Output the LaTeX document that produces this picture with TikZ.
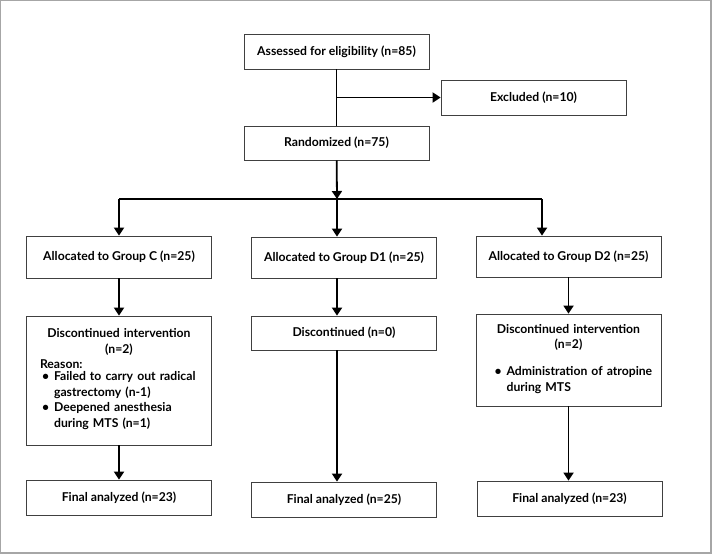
\documentclass[tikz,border=0pt]{standalone}
\usepackage{fontspec}
\setmainfont{Lato}
\usetikzlibrary{arrows.meta}

\begin{document}
\begin{tikzpicture}[x=1pt, y=-1pt, font=\bfseries\fontsize{12.2}{15.5}\selectfont]
\tikzstyle{box}=[draw=black!75, line width=0.8pt, minimum width=185pt, minimum height=35pt, inner sep=0pt, align=center];
\tikzstyle{link}=[line width=1.8pt];
\tikzstyle{arrow}=[line width=1.8pt, -{Triangle[length=8pt,width=10pt]}];
\useasboundingbox (0,0) rectangle (714,554);
\draw [gray!70, line width=1.2pt] (0.6,0.6) rectangle (711,553);
% top
\node [box] (assess) at (336.5,51.5) {Assessed for eligibility (n=85)};
\node [box] (excl) at (533.5,97.5) {Excluded (n=10)};
\node [box, minimum height=34pt] (rand) at (336.5,143) {Randomized (n=75)};
% groups
\node [box, minimum height=42pt] (allocC) at (119,257) {Allocated to Group C (n=25)};
\node [box, minimum height=41pt] (allocD1) at (344,257.5) {Allocated to Group D1 (n=25)};
\node [box, minimum height=41pt] (allocD2) at (568.5,256.5) {Allocated to Group D2 (n=25)};
\node [box, minimum height=129pt, text width=158pt] (discC) at (119,380.5)
  {\centering Discontinued intervention\\(n=2)\par
   \raggedright Reason:\par
   \begin{tabular}{@{\hspace{2pt}}l@{\hspace{5pt}}l@{}}
   \textbullet & Failed to carry out radical\\
               & gastrectomy (n-1)\\
   \textbullet & Deepened anesthesia\\
               & during MTS (n=1)
   \end{tabular}\par};
\node [box, minimum height=34pt] (discD1) at (344,333) {Discontinued (n=0)};
\node [box, minimum height=92pt, text width=158pt] (discD2) at (568.5,360)
  {\centering Discontinued intervention\\(n=2)\par
   \vspace{13pt}\raggedright
   \begin{tabular}{@{\hspace{5pt}}l@{\hspace{5pt}}l@{}}
   \textbullet & Administration of atropine\\
               & during MTS
   \end{tabular}\par};
\node [box] (finC) at (119,497.5) {Final analyzed (n=23)};
\node [box] (finD1) at (344,499.5) {Final analyzed (n=25)};
\node [box] (finD2) at (569.5,498.5) {Final analyzed (n=23)};
\coordinate (split) at (337,199);
\coordinate (splitR) at (542,199);
\draw [link] (assess) -- (rand);
\draw [arrow] (assess |- excl) -- (excl);
\draw [arrow] (rand) -- (split);
\draw [link] (allocC.north |- split) -- (splitR);
\draw [arrow] (allocC.north |- split) -- (allocC);
\draw [arrow] (split) -- (split |- allocD1.north);
\draw [arrow] (splitR) -- (splitR |- allocD2.north);
\draw [arrow] (allocC) -- (discC);
\draw [arrow] (split |- allocD1.south) -- (split |- discD1.north);
\draw [arrow] (allocD2) -- (discD2);
\draw [arrow] (discC) -- (finC);
\draw [arrow] (split |- discD1.south) -- (split |- finD1.north);
\draw [arrow] (discD2.south) -- (discD2.south |- finD2.north);
\end{tikzpicture}
\end{document}
